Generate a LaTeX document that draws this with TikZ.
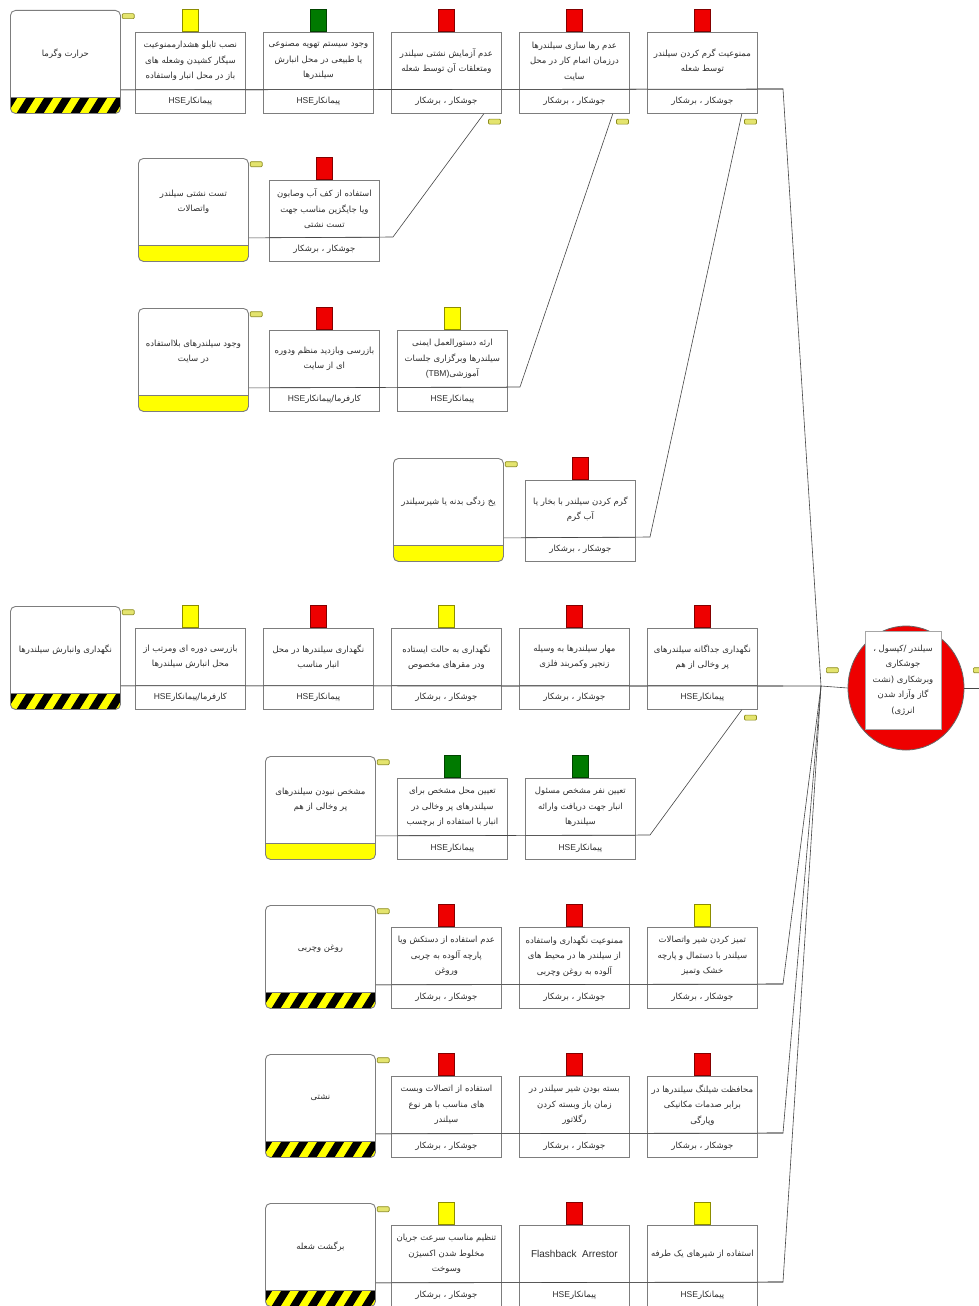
\documentclass[tikz,border=0pt]{standalone}
\usepackage{fontspec}
\TeXXeTstate=1
\newfontfamily\fafont[Script=Arabic]{DejaVu Sans}
\newfontfamily\latfont{Liberation Sans}
\usetikzlibrary{calc,shapes.geometric}
\definecolor{tRed}{RGB}{238,0,0}
\definecolor{tYel}{RGB}{255,255,0}
\definecolor{tGrn}{RGB}{0,122,0}
\definecolor{stab}{RGB}{228,228,110}
\definecolor{stabE}{RGB}{140,140,30}
\definecolor{boxE}{RGB}{125,125,125}
\definecolor{lineC}{RGB}{70,70,70}
\definecolor{txtC}{RGB}{45,45,45}
\newcommand\ownA{\beginR جوشکار ، برشکار\endR}
\newcommand\ownB{\beginR پیمانکار\beginL{\latfont HSE}\endL\endR}
\newcommand\ownC{\beginR کارفرما/پیمانکار\beginL{\latfont HSE}\endL\endR}
\tikzset{
  basefont/.style={font=\fafont\fontsize{8.5}{15.5}\selectfont, text=txtC},
  threatbox/.style={draw=boxE, line width=0.9pt, rounded corners=5pt, minimum width=110pt, minimum height=103pt, anchor=north west, inner sep=0pt, fill=white},
  hazard/.style={path picture={
    \fill[tYel, sharp corners] ([yshift=16pt]path picture bounding box.south west) rectangle (path picture bounding box.south east);
    \foreach \k in {0,...,7}{
      \fill[black, sharp corners] ($(path picture bounding box.south west)+(\k*18pt-12pt,0pt)$) -- ++(9pt,0pt) -- ++(10pt,16pt) -- ++(-9pt,0pt) -- cycle;}
    \draw[boxE, line width=0.8pt, sharp corners] ([yshift=16pt]path picture bounding box.south west) -- ([yshift=16pt]path picture bounding box.south east);
  }},
  escal/.style={path picture={
    \fill[tYel, sharp corners] ([yshift=16pt]path picture bounding box.south west) rectangle (path picture bounding box.south east);
    \draw[boxE, line width=0.8pt, sharp corners] ([yshift=16pt]path picture bounding box.south west) -- ([yshift=16pt]path picture bounding box.south east);
  }},
  barrier/.style={draw=boxE, line width=0.8pt, minimum width=110pt, minimum height=81pt, anchor=north west, inner sep=0pt, fill=white},
  tabbox/.style={minimum width=16pt, minimum height=22pt, inner sep=0pt, anchor=south, line width=0.7pt},
  tabred/.style={tabbox, fill=tRed, draw=tRed!55!black},
  tabyel/.style={tabbox, fill=tYel, draw=tYel!55!black},
  tabgrn/.style={tabbox, fill=tGrn, draw=tGrn!55!black},
  smalltab/.style={minimum width=12pt, minimum height=5pt, inner sep=0pt, fill=stab, draw=stabE, line width=0.6pt, rounded corners=1pt},
  btext/.style={basefont, align=center, inner sep=0pt},
  conn/.style={draw=lineC, line width=0.6pt},
  divider/.style={draw=boxE, line width=0.8pt},
}
% name, x, y, band style, text
\newcommand\mkthreat[5]{%
  \node[threatbox, #4] (#1) at (#2,#3) {};
  \node[btext] (#1txt) at ($(#1.center)+(0,8pt)$) {#5};
  \node[smalltab, anchor=south west] (#1tab) at ($(#1.north east)+(1pt,-9pt)$) {};
}
% name, x, y(top of tab), tab style, text, owner
\newcommand\mkbarrier[6]{%
  \node[barrier] (#1) at (#2,#3+22) {};
  \node[#4] (#1tab) at (#1.north) {};
  \draw[divider] ($(#1.north west)+(0,-57pt)$) -- ($(#1.north east)+(0,-57pt)$);
  \node[btext] (#1txt) at ($(#1.north)+(0,-29pt)$) {#5};
  \node[btext] (#1own) at ($(#1.south)+(0,12pt)$) {#6};
}
\begin{document}
\begin{tikzpicture}[x=1pt, y=-1pt]
\useasboundingbox (0,0) rectangle (979,1306);
\fill[white] (0,0) rectangle (979,1306);

\coordinate (conv) at (821,686);
\coordinate (k1) at (783,89);
\coordinate (k5) at (783,686);
\coordinate (k7) at (783,984);
\coordinate (k8) at (783,1133);
\coordinate (k9) at (783,1282);
\coordinate (e2) at (393,237);
\coordinate (e3) at (520,387);
\coordinate (e4) at (650,537);
\coordinate (e6) at (650,835);
\coordinate (rt) at (979,688);

% ---------- threats ----------
\mkthreat{t1}{10}{10}{hazard}{\beginR حرارت وگرما\endR}
\mkthreat{t2}{138}{158}{escal}{\beginR تست نشتی سیلندر\endR\\\beginR واتصالات\endR}
\mkthreat{t3}{138}{308}{escal}{\beginR وجود سیلندرهای بلااستفاده\endR\\\beginR در سایت\endR}
\mkthreat{t4}{393}{458}{escal}{\beginR یخ زدگی بدنه یا شیرسیلندر\endR}
\mkthreat{t5}{10}{606}{hazard}{\beginR نگهداری وانبارش سیلندرها\endR}
\mkthreat{t6}{265}{756}{escal}{\beginR مشخص نبودن سیلندرهای\endR\\\beginR پر وخالی از هم\endR}
\mkthreat{t7}{265}{905}{hazard}{\beginR روغن وچربی\endR}
\mkthreat{t8}{265}{1054}{hazard}{\beginR نشتی\endR}
\mkthreat{t9}{265}{1203}{hazard}{\beginR برگشت شعله\endR}

% ---------- main lines ----------
\draw[conn] ($(t1.south east)+(0,24pt)$) -- (k1) -- (conv);
\draw[conn] ($(t5.south east)+(0,24pt)$) -- (k5) -- (conv);
\draw[conn] ($(t7.south east)+(0,24pt)$) -- (k7) -- (conv);
\draw[conn] ($(t8.south east)+(0,24pt)$) -- (k8) -- (conv);
\draw[conn] ($(t9.south east)+(0,24pt)$) -- (k9) -- (conv);

% ---------- barriers ----------
\mkbarrier{b11}{135}{10}{tabyel}{\beginR نصب تابلو هشدارممنوعیت\endR\\\beginR سیگار کشیدن وشعله های\endR\\\beginR باز در محل انبار واستفاده\endR}{\ownB}
\mkbarrier{b12}{263}{10}{tabgrn}{\beginR وجود سیستم تهویه مصنوعی\endR\\\beginR یا طبیعی در محل انبارش\endR\\\beginR سیلندرها\endR}{\ownB}
\mkbarrier{b13}{391}{10}{tabred}{\beginR عدم آزمایش نشتی سیلندر\endR\\\beginR ومتعلقات آن توسط شعله\endR}{\ownA}
\mkbarrier{b14}{519}{10}{tabred}{\beginR عدم رها سازی سیلندرها\endR\\\beginR درزمان اتمام کار در محل\endR\\\beginR سایت\endR}{\ownA}
\mkbarrier{b15}{647}{10}{tabred}{\beginR ممنوعیت گرم کردن سیلندر\endR\\\beginR توسط شعله\endR}{\ownA}

\mkbarrier{b21}{269}{158}{tabred}{\beginR استفاده از کف آب وصابون\endR\\\beginR ویا جایگزین مناسب جهت\endR\\\beginR تست نشتی\endR}{\ownA}

\mkbarrier{b31}{269}{308}{tabred}{\beginR بازرسی وبازدید منظم ودوره\endR\\\beginR ای از سایت\endR}{\ownC}
\mkbarrier{b32}{397}{308}{tabyel}{\beginR ارئه دستورالعمل ایمنی\endR\\\beginR سیلندرها وبرگزاری جلسات\endR\\\beginR آموزشی\beginL{\latfont (TBM)}\endL\endR}{\ownB}

\mkbarrier{b41}{525}{458}{tabred}{\beginR گرم کردن سیلندر با بخار یا\endR\\\beginR آب گرم\endR}{\ownA}

\mkbarrier{b51}{135}{606}{tabyel}{\beginR بازرسی دوره ای ومرتب از\endR\\\beginR محل انبارش سیلندرها\endR}{\ownC}
\mkbarrier{b52}{263}{606}{tabred}{\beginR نگهداری سیلندرها در محل\endR\\\beginR انبار مناسب\endR}{\ownB}
\mkbarrier{b53}{391}{606}{tabyel}{\beginR نگهداری به حالت ایستاده\endR\\\beginR ودر مقرهای مخصوص\endR}{\ownA}
\mkbarrier{b54}{519}{606}{tabred}{\beginR مهار سیلندرها به وسیله\endR\\\beginR زنجیر وکمربند فلزی\endR}{\ownA}
\mkbarrier{b55}{647}{606}{tabred}{\beginR نگهداری جداگانه سیلندرهای\endR\\\beginR پر وخالی از هم\endR}{\ownB}

\mkbarrier{b61}{397}{756}{tabgrn}{\beginR تعیین محل مشخص برای\endR\\\beginR سیلندرهای پر وخالی در\endR\\\beginR انبار با استفاده از برچسب\endR}{\ownB}
\mkbarrier{b62}{525}{756}{tabgrn}{\beginR تعیین نفر مشخص مسئول\endR\\\beginR انبار جهت دریافت وارائه\endR\\\beginR سیلندرها\endR}{\ownB}

\mkbarrier{b71}{391}{905}{tabred}{\beginR عدم استفاده از دستکش ویا\endR\\\beginR پارچه آلوده به چربی\endR\\\beginR وروغن\endR}{\ownA}
\mkbarrier{b72}{519}{905}{tabred}{\beginR ممنوعیت نگهداری واستفاده\endR\\\beginR از سیلندر ها در محیط های\endR\\\beginR آلوده به روغن وچربی\endR}{\ownA}
\mkbarrier{b73}{647}{905}{tabyel}{\beginR تمیز کردن شیر واتصالات\endR\\\beginR سیلندر با دستمال و پارچه\endR\\\beginR خشک وتمیز\endR}{\ownA}

\mkbarrier{b81}{391}{1054}{tabred}{\beginR استفاده از اتصالات وبست\endR\\\beginR های مناسب با هر نوع\endR\\\beginR سیلندر\endR}{\ownA}
\mkbarrier{b82}{519}{1054}{tabred}{\beginR بسته بودن شیر سیلندر در\endR\\\beginR زمان باز وبسته کردن\endR\\\beginR رگلاتور\endR}{\ownA}
\mkbarrier{b83}{647}{1054}{tabred}{\beginR محافظت شیلنگ سیلندرها در\endR\\\beginR برابر صدمات مکانیکی\endR\\\beginR وپارگی\endR}{\ownA}

\mkbarrier{b91}{391}{1203}{tabyel}{\beginR تنظیم مناسب سرعت جریان\endR\\\beginR مخلوط شدن اکسیژن\endR\\\beginR وسوخت\endR}{\ownA}
\mkbarrier{b92}{519}{1203}{tabred}{{\latfont\fontsize{10}{15}\selectfont Flashback\ \ Arrestor}}{\ownB}
\mkbarrier{b93}{647}{1203}{tabyel}{\beginR استفاده از شیرهای یک طرفه\endR}{\ownB}

% ---------- main lines over boxes ----------
\draw[conn] ($(t1.south east)+(0,24pt)$) -- (k1);
\draw[conn] ($(t5.south east)+(0,24pt)$) -- (k5);
\draw[conn] ($(t7.south east)+(0,24pt)$) -- (k7);
\draw[conn] ($(t8.south east)+(0,24pt)$) -- (k8);
\draw[conn] ($(t9.south east)+(0,24pt)$) -- (k9);

% ---------- escalation connectors ----------
\draw[conn] ($(t2.south east)+(0,24pt)$) -- (e2) -- ($(b13.south east)+(-18pt,0)$);
\draw[conn] ($(t3.south east)+(0,24pt)$) -- (e3) -- ($(b14.south east)+(-17pt,0)$);
\draw[conn] ($(t4.south east)+(0,24pt)$) -- (e4) -- ($(b15.south east)+(-16pt,0)$);
\draw[conn] ($(t6.south east)+(0,24pt)$) -- (e6) -- ($(b55.south east)+(-16pt,0)$);
\node[smalltab, anchor=north east] (b13tab2) at ($(b13.south east)+(-1pt,-5pt)$) {};
\node[smalltab, anchor=north east] (b14tab2) at ($(b14.south east)+(-1pt,-5pt)$) {};
\node[smalltab, anchor=north east] (b15tab2) at ($(b15.south east)+(-1pt,-5pt)$) {};
\node[smalltab, anchor=north east] (b55tab2) at ($(b55.south east)+(-1pt,-5pt)$) {};

% ---------- top event ----------
\node[ellipse, draw=black!60, line width=0.8pt, fill=tRed, minimum width=116pt, minimum height=124pt, inner sep=0pt] (top) at (906,688) {};
\node[draw=black!35, fill=white, minimum width=76pt, minimum height=98pt, inner sep=0pt] (topbox) at (903,680) {};
\node[btext] (toptxt) at (topbox.center) {\beginR سیلندر /کپسول ،\endR\\\beginR جوشکاری\endR\\\beginR وبرشکاری (نشت\endR\\\beginR گاز وآزاد شدن\endR\\\beginR انرژی)\endR};
\draw[conn] (conv) -- (top.west);
\draw[conn] (top.east) -- (rt);
\node[smalltab, anchor=south west] (toptabL) at (826,673) {};
\node[smalltab, anchor=south west] (toptabR) at (973,673) {};
\end{tikzpicture}
\end{document}
